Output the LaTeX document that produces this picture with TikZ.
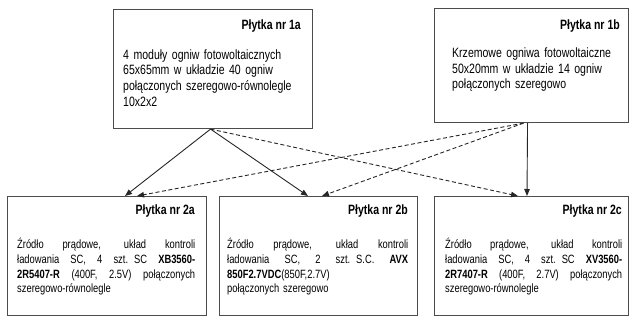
\documentclass[tikz,border=0pt]{standalone}
\usepackage{fontspec}
\setmainfont{Liberation Sans}[FakeStretch=0.78]
\usetikzlibrary{arrows.meta,calc}
\tikzset{
  box/.style={draw=black!70, line width=1.1pt, rectangle, inner sep=0pt, anchor=north west, minimum width=#1, minimum height=119pt},
  box/.default=199pt,
  title/.style={anchor=base east, inner sep=0pt, font=\fontsize{13.5}{15.7}\selectfont\bfseries},
  body/.style={anchor=base west, inner sep=0pt, align=left, text width=#1, font=\fontsize{13.5}{15.7}\selectfont},
  sbody/.style={body=#1, font=\fontsize{12}{14.8}\selectfont},
  conn/.style={draw=black!85, line width=0.9pt, -{Triangle[length=7pt,width=5.5pt]}},
  dconn/.style={conn, dash pattern=on 4pt off 2.5pt},
}
\newcommand{\jline}[1]{\makebox[\hsize][s]{\spaceskip=.25em plus 1fil\relax #1}}
\begin{document}
\begin{tikzpicture}[x=1pt,y=-1pt]
\useasboundingbox (0,0) rectangle (629,325);
\node[box] (b1a) at (113,9) {};
\node[box=194pt, minimum height=114pt] (b1b) at (434,8) {};
\node[box] (b2a) at (7,196) {};
\node[box=198pt] (b2b) at (219,196) {};
\node[box=194pt] (b2c) at (434,196) {};

\node[title] (t1a) at (301,29.5) {Płytka nr 1a};
\node[title] (t1b) at (620,29.5) {Płytka nr 1b};
\node[title] (t2a) at (195,214.5) {Płytka nr 2a};
\node[title] (t2b) at (408,214.5) {Płytka nr 2b};
\node[title] (t2c) at (622,214.5) {Płytka nr 2c};

\node[body=260pt] (x1a) at (123,59) {4 moduły ogniw fotowoltaicznych\\65x65mm w układzie 40 ogniw\\połączonych szeregowo-równolegle\\10x2x2};
\node[body=260pt] (x1b) at (452,57.5) {Krzemowe ogniwa fotowoltaiczne\\50x20mm w układzie 14 ogniw\\połączonych szeregowo};
\node[sbody=178pt] (x2a) at (17,248.5) {\jline{Źródło prądowe, układ kontroli}\\\jline{ładowania SC, 4 szt. SC \textbf{XB3560-}}\\\jline{\textbf{2R5407-R} (400F, 2.5V) połączonych}\\szeregowo-równolegle};
\node[sbody=181pt] (x2b) at (227,248.5) {\jline{Źródło prądowe, układ kontroli}\\\jline{ładowania SC, 2 szt. S.C. \textbf{AVX}}\\\textbf{850F2.7VDC}(850F,2.7V)\\połączonych szeregowo};
\node[sbody=177pt] (x2c) at (445,248.5) {\jline{Źródło prądowe, układ kontroli}\\\jline{ładowania SC, 4 szt. SC \textbf{XV3560-}}\\\jline{\textbf{2R7407-R} (400F, 2.7V) połączonych}\\szeregowo-równolegle};

\coordinate (o1a) at ($(b1a.south)+(-2.5,0)$);
\coordinate (o1bs) at ($(b1b.south)+(-4,0)$);
\coordinate (o1bd) at ($(b1b.south)+(-8,0)$);
\coordinate (e2as) at ($(b2a.north west)+(118,0)$);
\coordinate (e2ad) at ($(b2a.north west)+(130,0)$);
\coordinate (e2bs) at ($(b2b.north west)+(89,0)$);
\coordinate (e2bd) at ($(b2b.north west)+(103,0)$);
\coordinate (e2cd) at ($(b2c.north west)+(84,0)$);
\coordinate (e2cs) at ($(b2c.north west)+(93,0)$);

\draw[conn] (o1a) -- (e2as);
\draw[conn] (o1a) -- (e2bs);
\draw[dconn] (o1a) -- (e2cd);
\draw[conn] (o1bs) -- (e2cs);
\draw[dconn] (o1bd) -- (e2bd);
\draw[dconn] (o1bd) -- (e2ad);
\end{tikzpicture}
\end{document}
